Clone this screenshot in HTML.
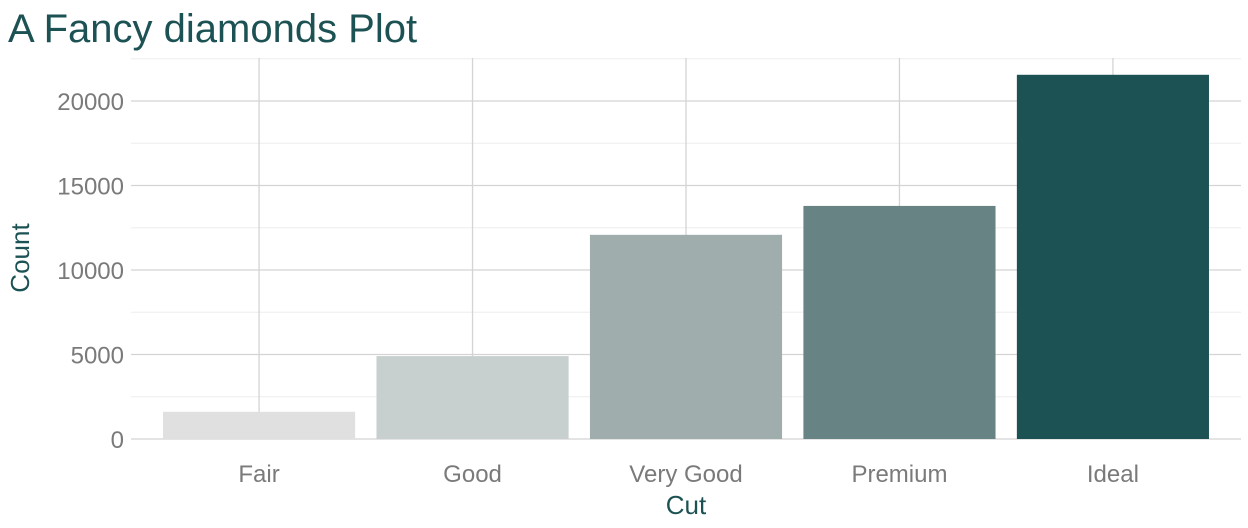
<!DOCTYPE html>
<html><head><meta charset="utf-8">
<style>
html,body{margin:0;padding:0;background:#fff;width:1248px;height:528px;overflow:hidden;}
svg text{font-family:"Liberation Sans",sans-serif;}
</style></head>
<body>
<svg id="chart" width="1248" height="528" xmlns="http://www.w3.org/2000/svg">
<text x="8" y="42" font-size="40" fill="#1d5255">A Fancy diamonds Plot</text>
<g id="grid"></g>
<g id="bars"></g>
<g id="yticks"></g>
<g id="xticks"></g>
<text x="686" y="514" font-size="26" fill="#1d5255" text-anchor="middle">Cut</text>
<text x="0" y="0" font-size="26" fill="#1d5255" text-anchor="middle" transform="translate(29,258) rotate(-90)">Count</text>
</svg>
<script>
const categories = ["Fair","Good","Very Good","Premium","Ideal"];
const counts = [1610,4906,12082,13791,21551];
const colors = ["#e0e0e0","#c8cfcf","#9fadad","#678383","#1d5255"];
const yTicks = [0,5000,10000,15000,20000];
const yMinor = [2500,7500,12500,17500,22500];

const NS="http://www.w3.org/2000/svg";
const pLeft=131, pRight=1241, pTop=58, pY0=439;
const band=(pRight-pLeft)/(categories.length+0.2);
const xs=i=>pLeft+band*(0.6+i);
const ys=v=>pY0-v*(338/20000);
function mk(tag,attrs,parent){const e=document.createElementNS(NS,tag);for(const k in attrs)e.setAttribute(k,attrs[k]);parent.appendChild(e);return e;}
const grid=document.getElementById('grid'),bars=document.getElementById('bars'),yt=document.getElementById('yticks'),xt=document.getElementById('xticks');
yMinor.forEach(v=>{if(ys(v)<pTop)return;const l=mk('line',{x1:pLeft,x2:pRight,y1:ys(v),y2:ys(v),stroke:'#eeeeee','stroke-width':1},grid);

});
yTicks.forEach(v=>{const l=mk('line',{x1:pLeft,x2:pRight,y1:ys(v),y2:ys(v),stroke:'#d4d4d4','stroke-width':1.3},grid);


const t=mk('text',{x:124,y:ys(v)+9,'font-size':24,fill:'#7a7a7a','text-anchor':'end'},yt);t.textContent=v;

});
categories.forEach((c,i)=>{const l=mk('line',{x1:xs(i),x2:xs(i),y1:pTop,y2:pY0,stroke:'#d4d4d4','stroke-width':1.3},grid);


const w=band*0.9;
const r=mk('rect',{x:xs(i)-w/2,y:ys(counts[i]),width:w,height:pY0-ys(counts[i]),fill:colors[i]},bars);


const t=mk('text',{x:xs(i),y:482,'font-size':24,fill:'#7a7a7a','text-anchor':'middle'},xt);t.textContent=c;

});
</script>
</body></html>
